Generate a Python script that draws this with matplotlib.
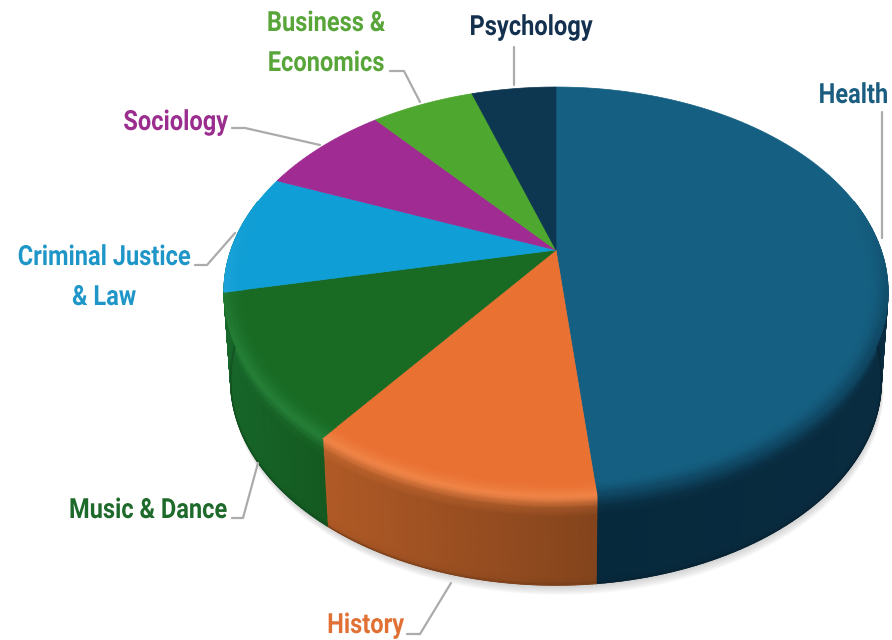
import matplotlib
matplotlib.use("Agg")
import matplotlib.pyplot as plt
import matplotlib.patheffects as pe
from matplotlib.transforms import Affine2D
import numpy as np
from matplotlib.patches import Polygon

categories = ["Health", "History", "Music & Dance", "Criminal Justice & Law",
              "Sociology", "Business & Economics", "Psychology"]
shares = [48.4, 11.85, 11.45, 9.5, 7.7, 6.1, 5.0]

top_colors = ["#156082", "#E97132", "#196B24", "#0F9ED5", "#A02B93", "#4EA72E", "#0D3650"]
# the wall under Criminal Justice is hidden, Music & Dance runs on to the left edge
side_left = ["#07293C", "#B05A26", "#17662A", "#17662A", "#701E67", "#367520", "#092636"]
side_right = ["#0A2C40", "#84441C", "#145A20", "#17662A", "#701E67", "#367520", "#092636"]
bevel_colors = ["#0F4561", "#F08548", "#268038", "#29A8DE", "#A02B93", "#4EA72E", "#0D3650"]

label_colors = ["#1B5D80", "#E07034", "#1D6A2A", "#1F96C8", "#9A2D8E", "#58A53A", "#14304F"]

# apex of the pie and the perspective of the disc, in pixels
APEX_X, APEX_Y = 556, 250
A, B, K = 325.0, 196.4, 0.205
DEPTH = 88.0
LOWER_SCALE = 0.98


class Squeeze(pe.AbstractPathEffect):
    # narrows a text around its anchor, no condensed bold font is installed
    def __init__(self, x0, sx=0.85):
        self.x0 = x0
        self.sx = sx

    def draw_path(self, renderer, gc, tpath, affine, rgbFace=None):
        squeeze = Affine2D().translate(-self.x0, 0).scale(self.sx, 1).translate(self.x0, 0)
        renderer.draw_path(gc, tpath, affine + squeeze, rgbFace)


def rim(theta, s=0.0):
    # theta clockwise from the top, s moves the point in towards the apex
    u, v = np.sin(theta), np.cos(theta)
    w = 1 + K * v
    x = A * u / w * (1 - s)
    y = B * v / w * (1 - s)
    return APEX_X + x, APEX_Y - y


def lower(theta, t=1.0):
    x, y = rim(theta)
    return x + (APEX_X - x) * (1 - LOWER_SCALE) * t, y + DEPTH * t


def rgb(c):
    return np.array(matplotlib.colors.to_rgb(c))


def label(x, y, text, color, ha):
    ax.text(x, y, text, color=color, ha=ha, va="baseline", family="Roboto",
            fontweight="bold", fontsize=20, zorder=6, path_effects=[Squeeze(x)])


edges = np.cumsum([0] + shares) / np.sum(shares) * 2 * np.pi

fig = plt.figure(figsize=(8.92, 6.4), dpi=100)
ax = fig.add_axes([0, 0, 1, 1])
ax.set_xlim(0, 892)
ax.set_ylim(640, 0)
ax.axis("off")

# soft shadow under the disc
full = np.linspace(0, 2 * np.pi, 361)
for off in range(1, 12):
    lx, ly = lower(full)
    ax.add_patch(Polygon(np.c_[lx + off * 0.2, ly + off * 0.9], closed=True,
                         fc="#808080", ec="none", alpha=0.035, zorder=1))

# side wall
VIS_START, VIS_END = np.radians(75), np.radians(285)
t_levels = np.array([0, 0.05, 0.12, 0.22, 0.9, 0.98, 1.0])
t_shade = np.array([1.0, 0.75, 0.25, 0.0, 0.0, 0.0, 0.0])
t_dark = np.array([1, 1, 1, 1, 1, 0.96, 0.82])
for i in range(len(shares)):
    a0, a1 = max(edges[i], VIS_START), min(edges[i + 1], VIS_END)
    if a1 <= a0:
        continue
    th = np.linspace(a0, a1, 80)
    X = np.array([lower(th, t)[0] for t in t_levels])
    Y = np.array([lower(th, t)[1] for t in t_levels])
    x0, x1 = rim(th)[0].min(), rim(th)[0].max()
    frac = (rim(th)[0] - x0) / max(x1 - x0, 1)
    C = np.zeros(X.shape + (3,))
    for r in range(len(t_levels)):
        for c in range(len(th)):
            base = rgb(side_left[i]) * (1 - frac[c]) + rgb(side_right[i]) * frac[c]
            bev = rgb(bevel_colors[i]) if i != 3 else rgb(bevel_colors[2])
            C[r, c] = (base * (1 - t_shade[r]) + bev * t_shade[r]) * t_dark[r]
    ax.pcolormesh(X, Y, C, shading="gouraud", zorder=2, rasterized=True)
    ex, ey = lower(th)
    ax.plot(ex, ey, color=C[-1, len(th) // 2], lw=1.0, zorder=2.1)

# top face
for i in range(len(shares)):
    th = np.linspace(edges[i], edges[i + 1], 120)
    rx, ry = rim(th)
    pts = np.c_[np.r_[APEX_X, rx], np.r_[APEX_Y, ry]]
    ax.add_patch(Polygon(pts, closed=True, fc=top_colors[i], ec=top_colors[i],
                         lw=0.5, zorder=3))

# rounded edge along the front of the top face
s_levels = np.array([0.06, 0.035, 0.015, 0.0])
s_weight = np.array([0.0, 0.25, 0.7, 1.0])
for i in range(len(shares)):
    a0, a1 = max(edges[i], VIS_START), min(edges[i + 1], VIS_END)
    if a1 <= a0:
        continue
    th = np.linspace(a0, a1, 80)
    fade = np.clip(np.sin((th - VIS_START) / (VIS_END - VIS_START) * np.pi) * 1.7, 0, 1)
    X = np.array([rim(th, s)[0] for s in s_levels])
    Y = np.array([rim(th, s)[1] for s in s_levels])
    C = np.zeros(X.shape + (3,))
    for r in range(len(s_levels)):
        for c in range(len(th)):
            wt = s_weight[r] * fade[c]
            C[r, c] = rgb(top_colors[i]) * (1 - wt) + rgb(bevel_colors[i]) * wt
    ax.pcolormesh(X, Y, C, shading="gouraud", zorder=4, rasterized=True)

# leader lines
leaders = [
    ([882, 882], [112, 238]),
    ([407, 420, 451], [634, 634, 583]),
    ([232, 243, 258], [518, 518, 463]),
    ([195, 207, 235], [265, 265, 233]),
    ([232, 245, 320], [128, 128, 145]),
    ([390, 404, 420], [71, 71, 102]),
    ([514, 514], [47, 85]),
]
for lx, ly in leaders:
    ax.plot(lx, ly, color="#ABABAB", lw=1.6, zorder=5, solid_capstyle="round")

# labels
label(888, 103, "Health", label_colors[0], "right")
label(404, 633, "History", label_colors[1], "right")
label(227, 518, "Music & Dance", label_colors[2], "right")
label(104, 265, "Criminal Justice", label_colors[3], "center")
label(104, 305, "& Law", label_colors[3], "center")
label(228, 130, "Sociology", label_colors[4], "right")
label(326, 31, "Business &", label_colors[5], "center")
label(326, 71, "Economics", label_colors[5], "center")
label(531, 35, "Psychology", label_colors[6], "center")

fig.savefig("out.png", dpi=100)
